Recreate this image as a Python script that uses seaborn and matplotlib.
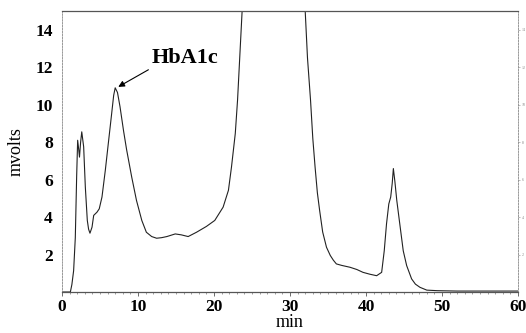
import matplotlib
matplotlib.use("Agg")
import matplotlib.pyplot as plt
import seaborn as sns
import pandas as pd
from matplotlib.ticker import MultipleLocator

time_min = [0, 1.1, 1.3, 1.53, 1.75, 1.93, 2.06, 2.2, 2.3, 2.45, 2.6, 2.85, 3.07,
            3.33, 3.5, 3.68, 3.95, 4.17, 4.6, 4.9, 5.26, 5.7, 6.14, 6.5, 6.8, 7.0,
            7.3, 7.63, 8.1, 8.5, 9.17, 9.8, 10.5, 11.1, 11.8, 12.45, 13.1, 13.8,
            14.9, 15.7, 16.6, 17.7, 19.0, 20.1, 21.2, 21.9, 22.3, 22.8, 23.1, 23.7,
            24.3, 25.5, 27, 28.5, 30, 31.2, 32.0, 32.3, 32.7, 33.0, 33.3, 33.6,
            33.9, 34.3, 34.8, 35.3, 35.7, 36.1, 36.8, 37.9, 38.8, 39.6, 40.5, 41.4,
            42.06, 42.4, 42.7, 43.0, 43.25, 43.45, 43.6, 43.8, 44.05, 44.5, 44.9,
            45.35, 46.0, 46.5, 47.1, 48.0, 49.4, 52, 56, 60]
mvolts = [0, 0, 0.4, 1.14, 2.9, 6.2, 8.1, 7.6, 7.2, 8.0, 8.55, 7.75, 5.6,
          3.82, 3.35, 3.14, 3.46, 4.09, 4.26, 4.44, 5.07, 6.5, 8.1, 9.4, 10.5, 10.9,
          10.65, 9.9, 8.6, 7.6, 6.14, 4.89, 3.82, 3.19, 2.96, 2.87, 2.9, 2.96,
          3.1, 3.05, 2.96, 3.19, 3.5, 3.82, 4.53, 5.43, 6.67, 8.46, 10.25, 15,
          21, 32, 45, 50, 42, 25, 15, 12.5, 10.25, 8.2, 6.67, 5.3,
          4.35, 3.2, 2.39, 1.95, 1.7, 1.5, 1.42, 1.32, 1.2, 1.05, 0.95, 0.87,
          1.05, 2.2, 3.64, 4.7, 5.07, 5.8, 6.59, 5.9, 4.89, 3.46, 2.2,
          1.41, 0.7, 0.42, 0.25, 0.1, 0.07, 0.05, 0.05, 0.05]

x_ticks = [0, 10, 20, 30, 40, 50, 60]
y_ticks = [2, 4, 6, 8, 10, 12, 14]
peak_label = "HbA1c"

df = pd.DataFrame({"min": time_min, "mvolts": mvolts})

sns.set_theme(style="white")
plt.rcParams["font.family"] = ["Liberation Serif", "DejaVu Serif"]
plt.rcParams["text.color"] = "black"
plt.rcParams["axes.labelcolor"] = "black"
plt.rcParams["xtick.color"] = "black"
plt.rcParams["ytick.color"] = "black"

fig = plt.figure(figsize=(5.26, 3.33), dpi=100)
ax = fig.add_axes([62 / 526, 1 - 292 / 333, 456 / 526, 281 / 333])

sns.lineplot(data=df, x="min", y="mvolts", ax=ax, color="#222222", linewidth=0.8)

ax.set_xlim(0, 60)
ax.set_ylim(0, 15)
ax.set_xticks(x_ticks)
ax.set_xticklabels([str(v) for v in x_ticks], fontsize=12.5, fontweight="bold")
ax.set_yticks(y_ticks)
ax.set_yticklabels([str(v) for v in y_ticks], fontsize=12.5, fontweight="bold")
ax.xaxis.set_minor_locator(MultipleLocator(1))
ax.tick_params(axis="x", which="major", direction="out", length=3, width=0.6,
               color="#555555", pad=2, bottom=True)
ax.tick_params(axis="x", which="minor", direction="out", length=1.5, width=0.5,
               color="#777777", bottom=True)
ax.tick_params(axis="y", which="major", length=0, pad=6.5, left=True)

ax.set_xlabel("min", fontsize=13, labelpad=-1)
ax.set_ylabel("mvolts", fontsize=13, labelpad=8)

for side in ["left", "right"]:
    ax.spines[side].set_linestyle((0, (2, 1.5)))
    ax.spines[side].set_color("#888888")
    ax.spines[side].set_linewidth(0.6)
ax.spines["top"].set_color("#555555")
ax.spines["top"].set_linewidth(0.9)
ax.spines["bottom"].set_color("#555555")
ax.spines["bottom"].set_linewidth(0.9)

ax2 = ax.twinx()
ax2.set_ylim(0, 15)
ax2.set_yticks(y_ticks)
ax2.set_yticklabels([str(v) for v in y_ticks], fontsize=3, color="#888888")
ax2.tick_params(axis="y", length=1.5, width=0.4, color="#888888", pad=1)
for s in ax2.spines.values():
    s.set_visible(False)
ax2.grid(False)

ax.annotate(peak_label, xy=(7.4, 10.95), xytext=(11.8, 12.23),
            fontsize=16, fontweight="bold", ha="left", va="baseline", color="black",
            arrowprops=dict(arrowstyle="-|>", color="black", lw=0.8,
                            mutation_scale=9, shrinkA=0, shrinkB=0,
                            relpos=(0, 0.0)))

fig.savefig("out.png", dpi=100)
